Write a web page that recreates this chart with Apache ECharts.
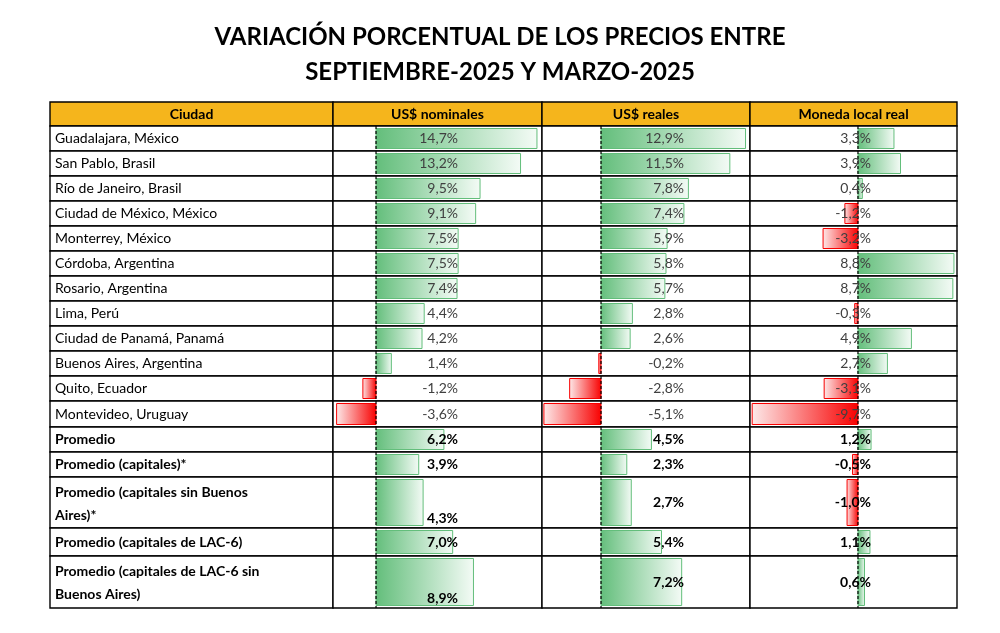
<!DOCTYPE html>
<html><head><meta charset="utf-8">
<script src="https://cdn.jsdelivr.net/npm/echarts@6/dist/echarts.min.js"></script>
<style>html,body{margin:0;background:#fff}#c{width:1000px;height:633px}</style>
</head><body><div id="c"></div>
<script>
var titleLines = ["VARIACIÓN PORCENTUAL DE LOS PRECIOS ENTRE", "SEPTIEMBRE-2025 Y MARZO-2025"];
var headers = ["Ciudad", "US$ nominales", "US$ reales", "Moneda local real"];
var cities = ["Guadalajara, México", "San Pablo, Brasil", "Río de Janeiro, Brasil", "Ciudad de México, México",
  "Monterrey, México", "Córdoba, Argentina", "Rosario, Argentina", "Lima, Perú", "Ciudad de Panamá, Panamá",
  "Buenos Aires, Argentina", "Quito, Ecuador", "Montevideo, Uruguay", "Promedio", "Promedio (capitales)*",
  "Promedio (capitales sin Buenos\nAires)*", "Promedio (capitales de LAC-6)", "Promedio (capitales de LAC-6 sin\nBuenos Aires)"];
var nominales = [14.7, 13.2, 9.5, 9.1, 7.5, 7.5, 7.4, 4.4, 4.2, 1.4, -1.2, -3.6, 6.2, 3.9, 4.3, 7.0, 8.9];
var reales = [12.9, 11.5, 7.8, 7.4, 5.9, 5.8, 5.7, 2.8, 2.6, -0.2, -2.8, -5.1, 4.5, 2.3, 2.7, 5.4, 7.2];
var localReal = [3.3, 3.9, 0.4, -1.2, -3.2, 8.8, 8.7, -0.3, 4.9, 2.7, -3.1, -9.7, 1.2, -0.5, -1.0, 1.1, 0.6];
var boldFrom = 12;

// layout: row heights (px), header first
var rowH = [24, 25, 25, 25, 25, 25, 25, 25, 25, 25, 25, 25, 26, 25, 25, 51, 28, 52];
var rowTop = [0];
for (var i = 1; i < rowH.length; i++) rowTop.push(rowTop[i - 1] + rowH[i - 1]);
var total = rowTop[rowH.length - 1] + rowH[rowH.length - 1];

var FONT = "Lato, 'Open Sans', sans-serif";
var cols = [
  { left: 50, width: 283 },
  { left: 333, width: 209, min: -3.93, max: 15.16, textRight: 125, bottomText: true },
  { left: 542, width: 208, min: -5.27, max: 13.3, textRight: 142 },
  { left: 750, width: 207, min: -9.9, max: 9.08, textRight: 121 }
];
var colData = [null, nominales, reales, localReal];

function fmt(v) { return v.toFixed(1).replace(".", ",") + "%"; }

var grids = [], xAxes = [], yAxes = [], series = [];
cols.forEach(function (c, k) {
  grids.push({ left: c.left, top: 102, width: c.width, height: total });
  xAxes.push({ gridIndex: k, type: "value", min: k ? c.min : 0, max: k ? c.max : 1, show: false });
  yAxes.push({ gridIndex: k, type: "value", min: 0, max: total, inverse: true, show: false });
  var data = [];
  for (var r = 0; r < rowH.length; r++) data.push([r, r === 0 ? 0 : (k ? colData[k][r - 1] : 0)]);
  series.push({
    type: "custom", xAxisIndex: k, yAxisIndex: k, data: data, silent: true,
    renderItem: function (params, api) {
      var r = api.value(0), v = api.value(1);
      var cs = params.coordSys;
      var y0 = api.coord([0, rowTop[r]])[1], y1 = api.coord([0, rowTop[r] + rowH[r]])[1];
      var ch = [];
      ch.push({ type: "rect", shape: { x: cs.x, y: y0, width: cs.width, height: y1 - y0 },
        style: { fill: r === 0 ? "#F5B51C" : "#fff", stroke: "#000", lineWidth: 1.4 } });
      if (r === 0) {
        ch.push({ type: "text", style: { text: headers[k], x: cs.x + cs.width / 2, y: (y0 + y1) / 2,
          align: "center", verticalAlign: "middle", font: "bold 14px " + FONT, fill: "#000" } });
        return { type: "group", children: ch };
      }
      var bold = r - 1 >= boldFrom;
      if (k === 0) {
        ch.push({ type: "text", style: { text: cities[r - 1], x: cs.x + 5, y: rowH[r] > 40 ? y0 + 4 : (y0 + y1) / 2,
          align: "left", verticalAlign: rowH[r] > 40 ? "top" : "middle", lineHeight: 23,
          font: (bold ? "bold " : "") + "14px " + FONT, fill: "#000" } });
        return { type: "group", children: ch };
      }
      var x0 = api.coord([0, rowTop[r]])[0], x1 = api.coord([v, rowTop[r]])[0];
      var pos = v >= 0;
      var col = pos ? "#63BE7B" : "#F80000";
      ch.push({ type: "rect", shape: { x: Math.min(x0, x1), y: y0 + 2.5, width: Math.abs(x1 - x0), height: y1 - y0 - 5 },
        style: { fill: new echarts.graphic.LinearGradient(0, 0, 1, 0, pos
          ? [{ offset: 0, color: "#63BE7B" }, { offset: 1, color: "#f4fbf6" }]
          : [{ offset: 0, color: "#fdeaea" }, { offset: 1, color: "#F80000" }]),
          stroke: col, lineWidth: 1 } });
      ch.push({ type: "line", shape: { x1: x0, y1: y0, x2: x0, y2: y1 },
        style: { stroke: "#000", lineWidth: 1.2, lineDash: [3, 2] } });
      var bottom = cols[k].bottomText && rowH[r] > 40;
      ch.push({ type: "text", style: { text: fmt(v), x: cs.x + cols[k].textRight, y: bottom ? y1 - 10 : (y0 + y1) / 2,
        align: "right", verticalAlign: "middle",
        font: (bold ? "bold " : "") + "14px " + FONT, fill: bold ? "#000" : "#404040" } });
      return { type: "group", children: ch };
    }
  });
});

var chart = echarts.init(document.getElementById("c"));
chart.setOption({
  animation: false,
  title: titleLines.map(function (t, i) {
    return { text: t, left: "center", top: 20 + i * 35,
      textStyle: { fontFamily: FONT, fontWeight: "bold", fontSize: 24, color: "#000" } };
  }),
  grid: grids, xAxis: xAxes, yAxis: yAxes, series: series
});
</script></body></html>
